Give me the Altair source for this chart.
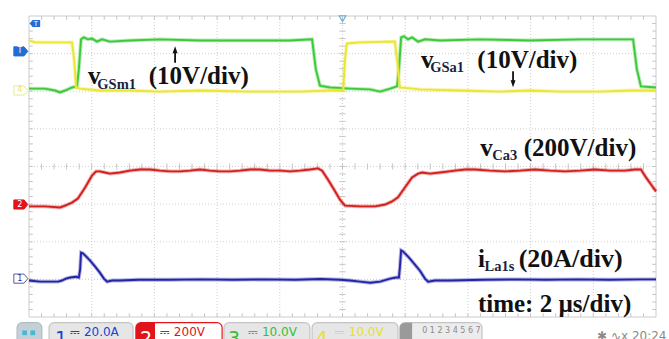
import altair as alt
import numpy as np
import pandas as pd

# Scope screen: 10 div x 8 div, 2 us/div -> time axis 0..20 us,
# every trace expressed in screen divisions (centre line = 0).
T_RANGE = [0.0, 20.0]
V_RANGE = [-4.0, 4.0]

# CH4 (yellow): gate-source voltage v_GSa1
ch4_t = [0, 0.19, 0.67, 1.37, 1.44, 1.50, 1.63, 2.26, 3.22, 4.18, 5.45, 7.05, 8.64, 9.60,
         10.02, 10.08, 10.14, 10.56, 11.67, 11.74, 11.83, 12.47, 13.75, 15.02, 15.98, 16.94,
         18.21, 19.17, 20.0]
ch4_v = [3.35, 3.30, 3.30, 3.30, 2.85, 2.10, 2.07, 2.02, 2.02, 1.99, 2.02, 1.99, 1.99, 2.02,
         2.02, 2.85, 3.27, 3.30, 3.32, 2.85, 2.10, 2.05, 2.02, 1.99, 2.02, 1.99,
         1.99, 2.02, 2.02]

# CH3 (green): gate-source voltage v_GSm1
ch3_t = [0, 0.51, 0.83, 0.99, 1.15, 1.37, 1.53, 1.59, 1.66, 1.75, 1.88, 2.01, 2.17, 2.33, 2.58,
         3.22, 4.18, 5.45, 7.05, 8.33, 9.03, 9.15, 9.28, 9.60, 10.24, 10.88, 11.20, 11.52, 11.74,
         11.80, 11.87, 11.96, 12.09, 12.22, 12.41, 12.63, 13.11, 14.39, 15.98, 17.58, 19.27,
         19.39, 19.52, 20.0]
ch3_v = [2.07, 2.07, 2.02, 1.97, 2.02, 2.10, 2.13, 2.58, 3.38, 3.43, 3.38, 3.40, 3.32, 3.38, 3.32,
         3.35, 3.38, 3.35, 3.35, 3.35, 3.38, 2.58, 2.15, 2.10, 2.07, 2.05, 1.99, 2.07, 2.13,
         2.58, 3.43, 3.46, 3.38, 3.43, 3.32, 3.38, 3.35, 3.38, 3.35, 3.38, 3.38,
         2.58, 2.13, 2.10]

# CH2 (red): capacitor voltage v_Ca3
ch2_t = [0, 0.51, 0.99, 1.15, 1.37, 1.56, 1.79, 2.01, 2.14, 2.26, 2.42, 2.58, 2.90, 3.22, 3.54,
         3.86, 4.18, 4.50, 4.82, 5.14, 5.45, 5.77, 6.09, 6.41, 6.73, 7.05, 7.37, 7.69, 8.01,
         8.33, 8.64, 8.96, 9.22, 9.35, 9.54, 9.73, 9.92, 10.08, 10.56, 11.04, 11.36, 11.58,
         11.77, 11.99, 12.22, 12.41, 12.54, 12.79, 13.11, 13.59, 13.91, 14.23, 14.70, 15.18,
         15.66, 16.14, 16.62, 17.10, 17.58, 18.05, 18.53, 19.01, 19.33, 19.52, 19.68, 19.87, 20.0]
ch2_v = [-1.06, -1.06, -1.09, -1.04, -0.96, -0.85, -0.56, -0.24, -0.13, -0.13, -0.16, -0.19,
         -0.16, -0.11, -0.08, -0.08, -0.11, -0.13, -0.13, -0.11, -0.08, -0.11, -0.13, -0.13,
         -0.11, -0.08, -0.08, -0.11, -0.11, -0.13, -0.11, -0.08, -0.05, -0.11, -0.35, -0.61,
         -0.88, -1.04, -1.06, -1.06, -1.01, -0.93, -0.82, -0.56, -0.29, -0.19, -0.16, -0.19,
         -0.16, -0.11, -0.08, -0.08, -0.11, -0.13, -0.11, -0.08, -0.11, -0.13, -0.11, -0.08,
         -0.11, -0.11, -0.08, -0.08, -0.29, -0.51, -0.66]

# CH1 (blue): inductor current i_La1s
ch1_t = [0, 0.35, 0.67, 0.93, 1.05, 1.18, 1.31, 1.50, 1.59, 1.63, 1.66, 1.72, 1.82, 1.95, 2.11,
         2.26, 2.39, 2.49, 2.65, 2.90, 3.50, 4.50, 5.50, 6.50, 7.50, 8.50, 9.30, 9.92, 10.24,
         10.56, 10.88, 11.20, 11.52, 11.71, 11.80, 11.83, 11.87, 11.93, 12.03, 12.15, 12.31,
         12.47, 12.63, 12.73, 12.95, 13.43, 14.50, 15.50, 16.50, 17.50, 18.50, 19.50, 20.0]
ch1_v = [-3.03, -3.06, -3.06, -3.06, -3.03, -2.98, -2.95, -2.93, -2.95, -2.74, -2.29, -2.31,
         -2.39, -2.50, -2.66, -2.82, -2.98, -3.06, -3.03, -3.03, -3.01, -3.01, -3.00, -3.01,
         -3.00, -3.01, -2.99, -3.01, -3.03, -3.06, -3.09, -3.06, -2.98, -2.95, -2.95, -2.69,
         -2.23, -2.26, -2.34, -2.45, -2.61, -2.77, -2.98, -3.06, -3.03, -3.03, -3.01, -3.00,
         -3.01, -3.00, -3.01, -3.00, -3.00]

trace_colors = {"ch1": "#2424a8", "ch2": "#d3201e", "ch3": "#3cc93a", "ch4": "#ece532"}

# Annotation texts (main runs + subscripts), placed in screen units
main_text = ["v", "(10V/div)", "v", "(10V/div)", "v", "(200V/div)", "i", "(20A/div)",
             "time: 2 \u00b5s/div)"]
main_t = [1.88, 3.82, 12.50, 14.30, 14.39, 15.78, 14.32, 15.62, 14.32]
main_v = [2.18, 2.18, 2.63, 2.63, 0.27, 0.27, -2.66, -2.66, -3.86]
main_size = [25, 25, 25, 25, 25, 25, 25, 26, 25]

sub_text = ["GSm1", "GSa1", "Ca3", "La1s"]
sub_t = [2.18, 12.80, 14.78, 14.53]
sub_v = [2.07, 2.52, 0.16, -2.77]

# Arrows pointing from the gate labels to their traces
arrow_t = [4.66, 15.44]
arrow_from = [2.76, 2.53]
arrow_to = [3.06, 2.24]
arrow_head = [3.09, 2.21]
arrow_shape = ["M0,-1L0.62,0.75L-0.62,0.75Z", "M0,1L0.62,-0.75L-0.62,-0.75Z"]

# Channel reference markers on the left edge
mark_v = [3.06, 2.02, -1.01, -2.98]
mark_fill = ["#1f6fd6", "#ffffff", "#e0141a", "#ffffff"]
mark_stroke = ["#1f6fd6", "#ece98a", "#e0141a", "#5a5a9a"]
mark_label = ["T", "4", "2", "1"]
mark_label_color = ["#ffffff", "#e6e27a", "#ffffff", "#2424a8"]

# Channel boxes in the status bar
box_t1 = [-0.38, 0.64, 3.41, 6.22, 9.03, 11.83]
box_t2 = [0.41, 3.32, 6.16, 8.96, 11.77, 14.45]
box_fill = ["#c3d0d8", "#e6e6e6", "#ffffff", "#e6e6e6", "#e6e6e6", "#ececec"]
box_stroke = ["#b0bcc4", "#c4c4c4", "#e0141a", "#c4c4c4", "#c4c4c4", "#c4c4c4"]
bar_text = ["1", "\u2393 20.0A", "2", "\u2393 200V", "3", "\u2393 10.0V", "4", "\u2393 10.0V",
            "0 1 2 3  4 5 6 7", "\u2731  \u223fx 20:24"]
bar_t = [0.83, 1.31, 3.54, 4.18, 6.35, 6.99, 9.15, 9.76, 12.54, 18.12]
bar_v = [-4.75, -4.50, -4.75, -4.50, -4.75, -4.50, -4.75, -4.50, -4.42, -4.62]
bar_size = [19, 12, 19, 12, 19, 12, 19, 12, 8, 12]
bar_color = ["#1c3fd6", "#1c3fd6", "#ffffff", "#e0141a", "#2fc23a", "#2fc23a",
             "#e8df2c", "#e8df2c", "#8a8a8a", "#8a8a8a"]

xs = alt.Scale(domain=T_RANGE, nice=False, zero=False)
ys = alt.Scale(domain=V_RANGE, nice=False, zero=False)


def X(field="t"):
    return alt.X(f"{field}:Q", scale=xs, axis=None)


def Y(field="v"):
    return alt.Y(f"{field}:Q", scale=ys, axis=None)


layers = []

# ---- graticule -------------------------------------------------------------
grid_t = [2, 4, 6, 8, 10, 12, 14, 16, 18]
grid_v = [-3, -2, -1, 0, 1, 2, 3]
gx = pd.DataFrame({"t": grid_t})
gy = pd.DataFrame({"v": grid_v})
layers.append(alt.Chart(gx).mark_rule(color="#cfcfcf", strokeWidth=1, strokeDash=[1, 2])
              .encode(x=X()))
layers.append(alt.Chart(gy).mark_rule(color="#cfcfcf", strokeWidth=1, strokeDash=[1, 2])
              .encode(y=Y()))

ticks = []
for t in np.arange(0.4, 20.0, 0.4):
    ticks += [(t, -0.08, t, 0.08), (t, 4.0, t, 3.9), (t, -4.0, t, -3.9)]
for v in np.arange(-3.8, 4.0, 0.2):
    ticks += [(9.9, v, 10.1, v), (0.0, v, 0.12, v), (20.0, v, 19.88, v)]
tk = pd.DataFrame(ticks, columns=["t", "v", "t2", "v2"])
layers.append(alt.Chart(tk).mark_rule(color="#c4c4c4", strokeWidth=1)
              .encode(x=X(), y=Y(), x2="t2:Q", y2="v2:Q"))

border = pd.DataFrame({"t": [T_RANGE[0]], "t2": [T_RANGE[1]], "v": [V_RANGE[0]], "v2": [V_RANGE[1]]})
layers.append(alt.Chart(border).mark_rect(fill=None, stroke="#cccccc", strokeWidth=1)
              .encode(x=X(), x2="t2:Q", y=Y(), y2="v2:Q"))

# ---- traces ----------------------------------------------------------------
for name, tt, vv in [("ch1", ch1_t, ch1_v), ("ch2", ch2_t, ch2_v),
                     ("ch3", ch3_t, ch3_v), ("ch4", ch4_t, ch4_v)]:
    df = pd.DataFrame({"t": tt, "v": vv})
    col = trace_colors[name]
    layers.append(alt.Chart(df).mark_line(color=col, strokeWidth=3.8, opacity=0.35,
                                          interpolate="linear")
                  .encode(x=X(), y=Y()))
    layers.append(alt.Chart(df).mark_line(color=col, strokeWidth=1.9, interpolate="linear")
                  .encode(x=X(), y=Y()))

# ---- annotations -----------------------------------------------------------
mt = pd.DataFrame({"t": main_t, "v": main_v, "text": main_text, "size": main_size})
layers.append(alt.Chart(mt).mark_text(font="Liberation Serif", fontWeight="bold",
                                      align="left", baseline="alphabetic", color="#111111")
              .encode(x=X(), y=Y(), text="text:N", size=alt.Size("size:Q", scale=None)))
st = pd.DataFrame({"t": sub_t, "v": sub_v, "text": sub_text})
layers.append(alt.Chart(st).mark_text(font="Liberation Serif", fontWeight="bold", fontSize=14.5,
                                      align="left", baseline="alphabetic", color="#1b1f3f")
              .encode(x=X(), y=Y(), text="text:N"))

ar = pd.DataFrame({"t": arrow_t, "v": arrow_from, "v2": arrow_to, "vh": arrow_head,
                   "shape": arrow_shape})
layers.append(alt.Chart(ar).mark_rule(color="#111111", strokeWidth=1.8)
              .encode(x=X(), y=Y(), y2="v2:Q"))
layers.append(alt.Chart(ar).mark_point(filled=True, color="#111111", size=64, opacity=1)
              .encode(x=X(), y=Y("vh"), shape=alt.Shape("shape:N", scale=None)))

# ---- channel markers -------------------------------------------------------
mk = pd.DataFrame({"t": [-0.26] * 4, "v": mark_v, "fill": mark_fill, "stroke": mark_stroke,
                   "label": mark_label, "lc": mark_label_color})
layers.append(alt.Chart(mk).mark_point(shape="M-1,-0.65L0.45,-0.65L1,0L0.45,0.65L-1,0.65Z",
                                       size=196, opacity=1, strokeWidth=1)
              .encode(x=X(), y=Y(), fill=alt.Fill("fill:N", scale=None),
                      stroke=alt.Stroke("stroke:N", scale=None)))
layers.append(alt.Chart(mk).mark_text(font="DejaVu Sans", fontSize=8, dx=-1, baseline="middle")
              .encode(x=X(), y=Y(), text="label:N", color=alt.Color("lc:N", scale=None)))

trig = pd.DataFrame({"t": [0.19], "v": [3.80]})
layers.append(alt.Chart(trig).mark_point(shape="M1,-0.65L-0.45,-0.65L-1,0L-0.45,0.65L1,0.65Z",
                                         size=110, filled=True, color="#1f6fd6", opacity=1)
              .encode(x=X(), y=Y()))
layers.append(alt.Chart(trig).mark_text(text="T", font="DejaVu Sans", fontSize=7, dx=1,
                                        color="#ffffff", baseline="middle")
              .encode(x=X(), y=Y()))
trig_pos = pd.DataFrame({"t": [10.0], "v": [3.93]})
layers.append(alt.Chart(trig_pos).mark_point(shape="triangle-down", size=45, filled=False,
                                             color="#6aaed8", strokeWidth=1.2, opacity=1)
              .encode(x=X(), y=Y()))

# ---- status bar ------------------------------------------------------------
bx = pd.DataFrame({"t": box_t1, "t2": box_t2, "v": [-4.15] * 6, "v2": [-4.9] * 6,
                   "fill": box_fill, "stroke": box_stroke})
layers.append(alt.Chart(bx).mark_rect(cornerRadius=5, strokeWidth=1.2)
              .encode(x=X(), x2="t2:Q", y=Y(), y2="v2:Q",
                      fill=alt.Fill("fill:N", scale=None),
                      stroke=alt.Stroke("stroke:N", scale=None)))
acc = pd.DataFrame({"t": [3.41, 11.83], "t2": [4.02, 12.22], "v": [-4.15, -4.15],
                    "v2": [-4.9, -4.9], "fill": ["#e0141a", "#9a9a9a"]})
layers.append(alt.Chart(acc).mark_rect(cornerRadiusTopLeft=5)
              .encode(x=X(), x2="t2:Q", y=Y(), y2="v2:Q", fill=alt.Fill("fill:N", scale=None)))
btn = pd.DataFrame({"t": [-0.14, 0.12], "v": [-4.42, -4.42]})
layers.append(alt.Chart(btn).mark_square(size=22, color="#48b7cf", opacity=1)
              .encode(x=X(), y=Y()))
bt = pd.DataFrame({"t": bar_t, "v": bar_v, "text": bar_text, "size": bar_size, "c": bar_color})
layers.append(alt.Chart(bt).mark_text(font="DejaVu Sans", align="left", baseline="alphabetic")
              .encode(x=X(), y=Y(), text="text:N",
                      size=alt.Size("size:Q", scale=None),
                      color=alt.Color("c:N", scale=None)))

chart = (
    alt.layer(*layers)
    .properties(width=627, height=301, background="#ffffff",
                padding={"left": 29, "top": 16, "right": 13, "bottom": 22},
                autosize=alt.AutoSizeParams(type="none"))
    .configure_view(stroke=None)
)

chart.save("out.html", embed_options={"renderer": "svg", "actions": False})
